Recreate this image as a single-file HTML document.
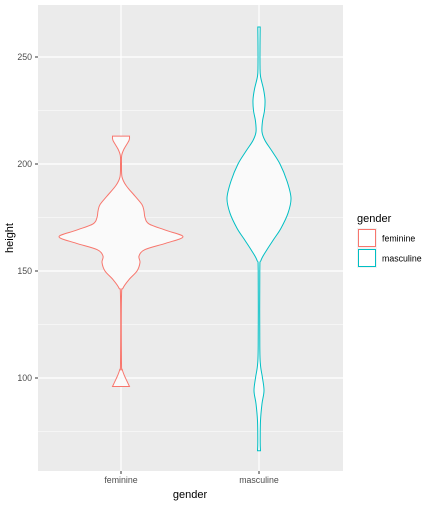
<!DOCTYPE html>
<html><head><meta charset="utf-8"><style>
body{margin:0;background:#fff;font-family:"Liberation Sans",sans-serif}
</style></head><body>
<svg id="c" width="432" height="504" xmlns="http://www.w3.org/2000/svg">
<rect x="38" y="5" width="305" height="466" fill="#EBEBEB"/>
<g id="grid"></g>
<g id="marks"></g>
<g id="axes" font-size="8.8" fill="#4D4D4D"></g>
<text x="190" y="498" text-anchor="middle" font-size="11" fill="#000">gender</text>
<text transform="translate(13,238) rotate(-90)" text-anchor="middle" font-size="11" fill="#000">height</text>
<g>
<text x="357" y="222" font-size="11" fill="#000">gender</text>
<g>
<rect x="357" y="228" width="20" height="20" fill="#F2F2F2"/><rect x="358.5" y="229.5" width="17" height="17" fill="#fff" stroke="#F8766D"/>
<text x="382" y="241.5" font-size="8.8" fill="#000">feminine</text></g>
<g>
<rect x="357" y="248" width="20" height="20" fill="#F2F2F2"/><rect x="358.5" y="249.5" width="17" height="17" fill="#fff" stroke="#00BFC4"/>
<text x="382" y="261.5" font-size="8.8" fill="#000">masculine</text></g>
</g>
</svg>
<script>
const categories=["feminine","masculine"];
const colors=["#F8766D","#00BFC4"];
const yTicks=[100,150,200,250];
const yMinor=[75,125,175,225];
const femHeights=[96,98,101,104,107,138,142,146,150,154,157,160,163,166,169,172,175,178,181,185,190,194,200,204,207,211,213];
const femDensity=[8.5,6.5,3.5,1.2,0.5,0.5,2,8,16,19,18,24,45,62,45,28,24,23,21,14,5,1,0.5,0.7,3,8,8.5];
const mascHeights=[66,70,80,88,94,100,106,115,150,155,160,165,170,177,184,192,200,206,211,215,220,225,230,235,241,246,255,264];
const mascDensity=[1.5,1.2,1.5,3,5,3.5,1.5,0.8,0.8,2,8,15,22,29,32,28,21,13,6,3,3.5,5.5,6,4.5,1.5,1,1,1.2];
const NS="http://www.w3.org/2000/svg";
const y=v=>57+(250-v)*2.14;
const x=i=>121+i*138;
const w=d=>d;
function el(t,a,p){const e=document.createElementNS(NS,t);for(const k in a)e.setAttribute(k,a[k]);p.appendChild(e);return e;}
const grid=document.getElementById('grid'),marks=document.getElementById('marks'),axes=document.getElementById('axes');
yMinor.forEach(v=>{const l=el('line',{x1:38,x2:343,y1:y(v),y2:y(v),stroke:'#fff','stroke-width':0.6},grid);

});
yTicks.forEach(v=>{const l=el('line',{x1:38,x2:343,y1:y(v),y2:y(v),stroke:'#fff','stroke-width':1.2},grid);


const t=el('text',{x:32,y:y(v)+3,'text-anchor':'end'},axes);t.textContent=v;


el('line',{x1:35,x2:38,y1:y(v),y2:y(v),stroke:'#333','stroke-width':1},axes);});
categories.forEach((c,i)=>{const l=el('line',{x1:x(i),x2:x(i),y1:5,y2:471,stroke:'#fff','stroke-width':1.2},grid);


el('line',{x1:x(i),x2:x(i),y1:471,y2:474,stroke:'#333'},axes);
const t=el('text',{x:x(i),y:483,'text-anchor':'middle'},axes);t.textContent=c;

});
function curve(pts){let d='';for(let k=0;k<pts.length-1;k++){const p0=pts[Math.max(k-1,0)],p1=pts[k],p2=pts[k+1],p3=pts[Math.min(k+2,pts.length-1)];
const c1=[p1[0]+(p2[0]-p0[0])/6,p1[1]+(p2[1]-p0[1])/6],c2=[p2[0]-(p3[0]-p1[0])/6,p2[1]-(p3[1]-p1[1])/6];
d+=` C${c1[0]},${c1[1]} ${c2[0]},${c2[1]} ${p2[0]},${p2[1]}`;}return d;}
function violin(i,hs,ds){const cx=x(i);
const right=hs.map((h,k)=>[cx+w(ds[k]),y(h)]);
const left=hs.map((h,k)=>[cx-w(ds[k]),y(h)]).reverse();
let d=`M${right[0][0]},${right[0][1]}`+curve(right)+` L${left[0][0]},${left[0][1]}`+curve(left)+'Z';
const p=el('path',{d,fill:'#FAFAFA',stroke:colors[i],'stroke-width':1},marks);

}
violin(0,femHeights,femDensity);
violin(1,mascHeights,mascDensity);
</script>
</body></html>
